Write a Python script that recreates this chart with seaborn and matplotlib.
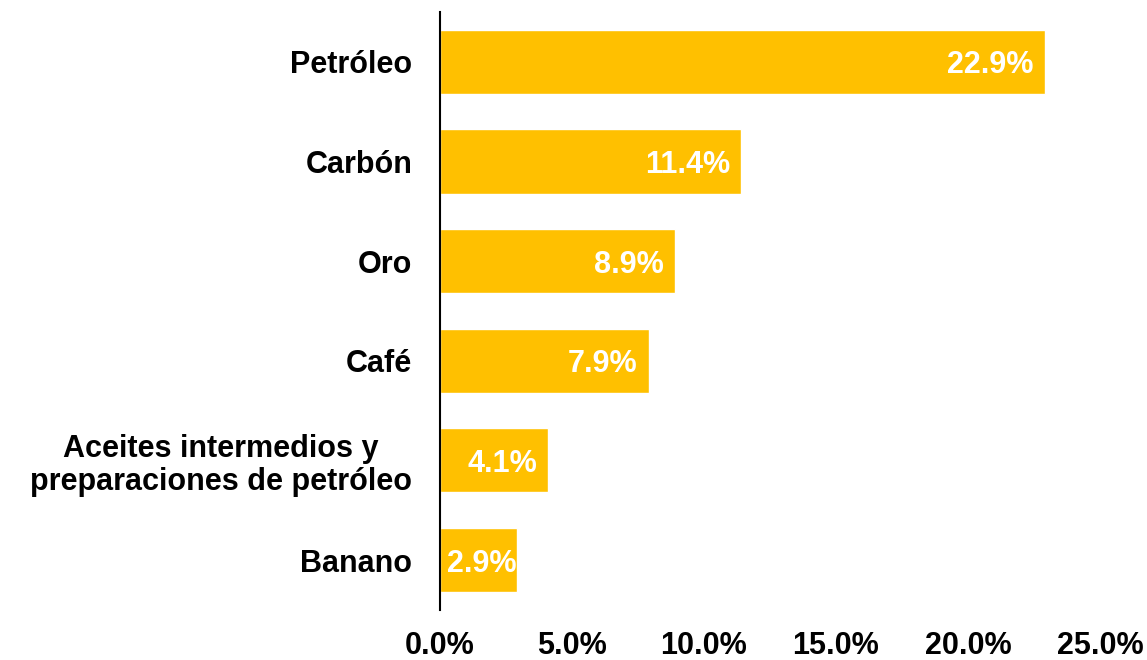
import matplotlib
matplotlib.use("Agg")
import matplotlib.pyplot as plt
import seaborn as sns
import pandas as pd

# Data
productos = [
    "Petróleo",
    "Carbón",
    "Oro",
    "Café",
    "Aceites intermedios y\npreparaciones de petróleo",
    "Banano",
]
participacion = [22.9, 11.4, 8.9, 7.9, 4.1, 2.9]
ticks_x = [0, 5, 10, 15, 20, 25]

frame = pd.DataFrame({"producto": productos, "valor": participacion})

sns.set_style("white")
plt.rcParams["font.family"] = ["Liberation Sans", "DejaVu Sans"]
plt.rcParams["text.color"] = "black"
plt.rcParams["xtick.color"] = "black"
plt.rcParams["ytick.color"] = "black"

fig, ax = plt.subplots(figsize=(11.47, 6.6), dpi=100)
fig.subplots_adjust(left=0.3836, right=0.959, top=0.982, bottom=0.076)

sns.barplot(data=frame, x="valor", y="producto", color="#FFC000",
            saturation=1, width=0.645, ax=ax)

# labels inside bar end; short bars get the label pushed to the bar start
for i, v in enumerate(participacion):
    if v < 3.5:
        ax.text(0.25, i, f"{v:.1f}%", ha="left", va="center_baseline",
                color="white", fontsize=22, fontweight="bold")
    else:
        ax.text(v - 0.42, i, f"{v:.1f}%", ha="right", va="center_baseline",
                color="white", fontsize=22, fontweight="bold")

ax.set_xlim(0, 25)
ax.set_ylim(5.5, -0.5)
ax.set_xticks(ticks_x)
ax.set_xticklabels([f"{t:.1f}%" for t in ticks_x], fontsize=22, fontweight="bold")
ax.tick_params(axis="x", length=0, pad=15)
ax.tick_params(axis="y", length=0, pad=20, labelsize=22)
for lab in ax.get_yticklabels():
    lab.set_fontweight("bold")
    lab.set_multialignment("center")
    lab.set_linespacing(1.15)
ax.set_xlabel("")
ax.set_ylabel("")

for s in ["top", "right", "bottom"]:
    ax.spines[s].set_visible(False)
ax.spines["left"].set_color("black")
ax.spines["left"].set_linewidth(1.5)

fig.savefig("out.png", dpi=100)
